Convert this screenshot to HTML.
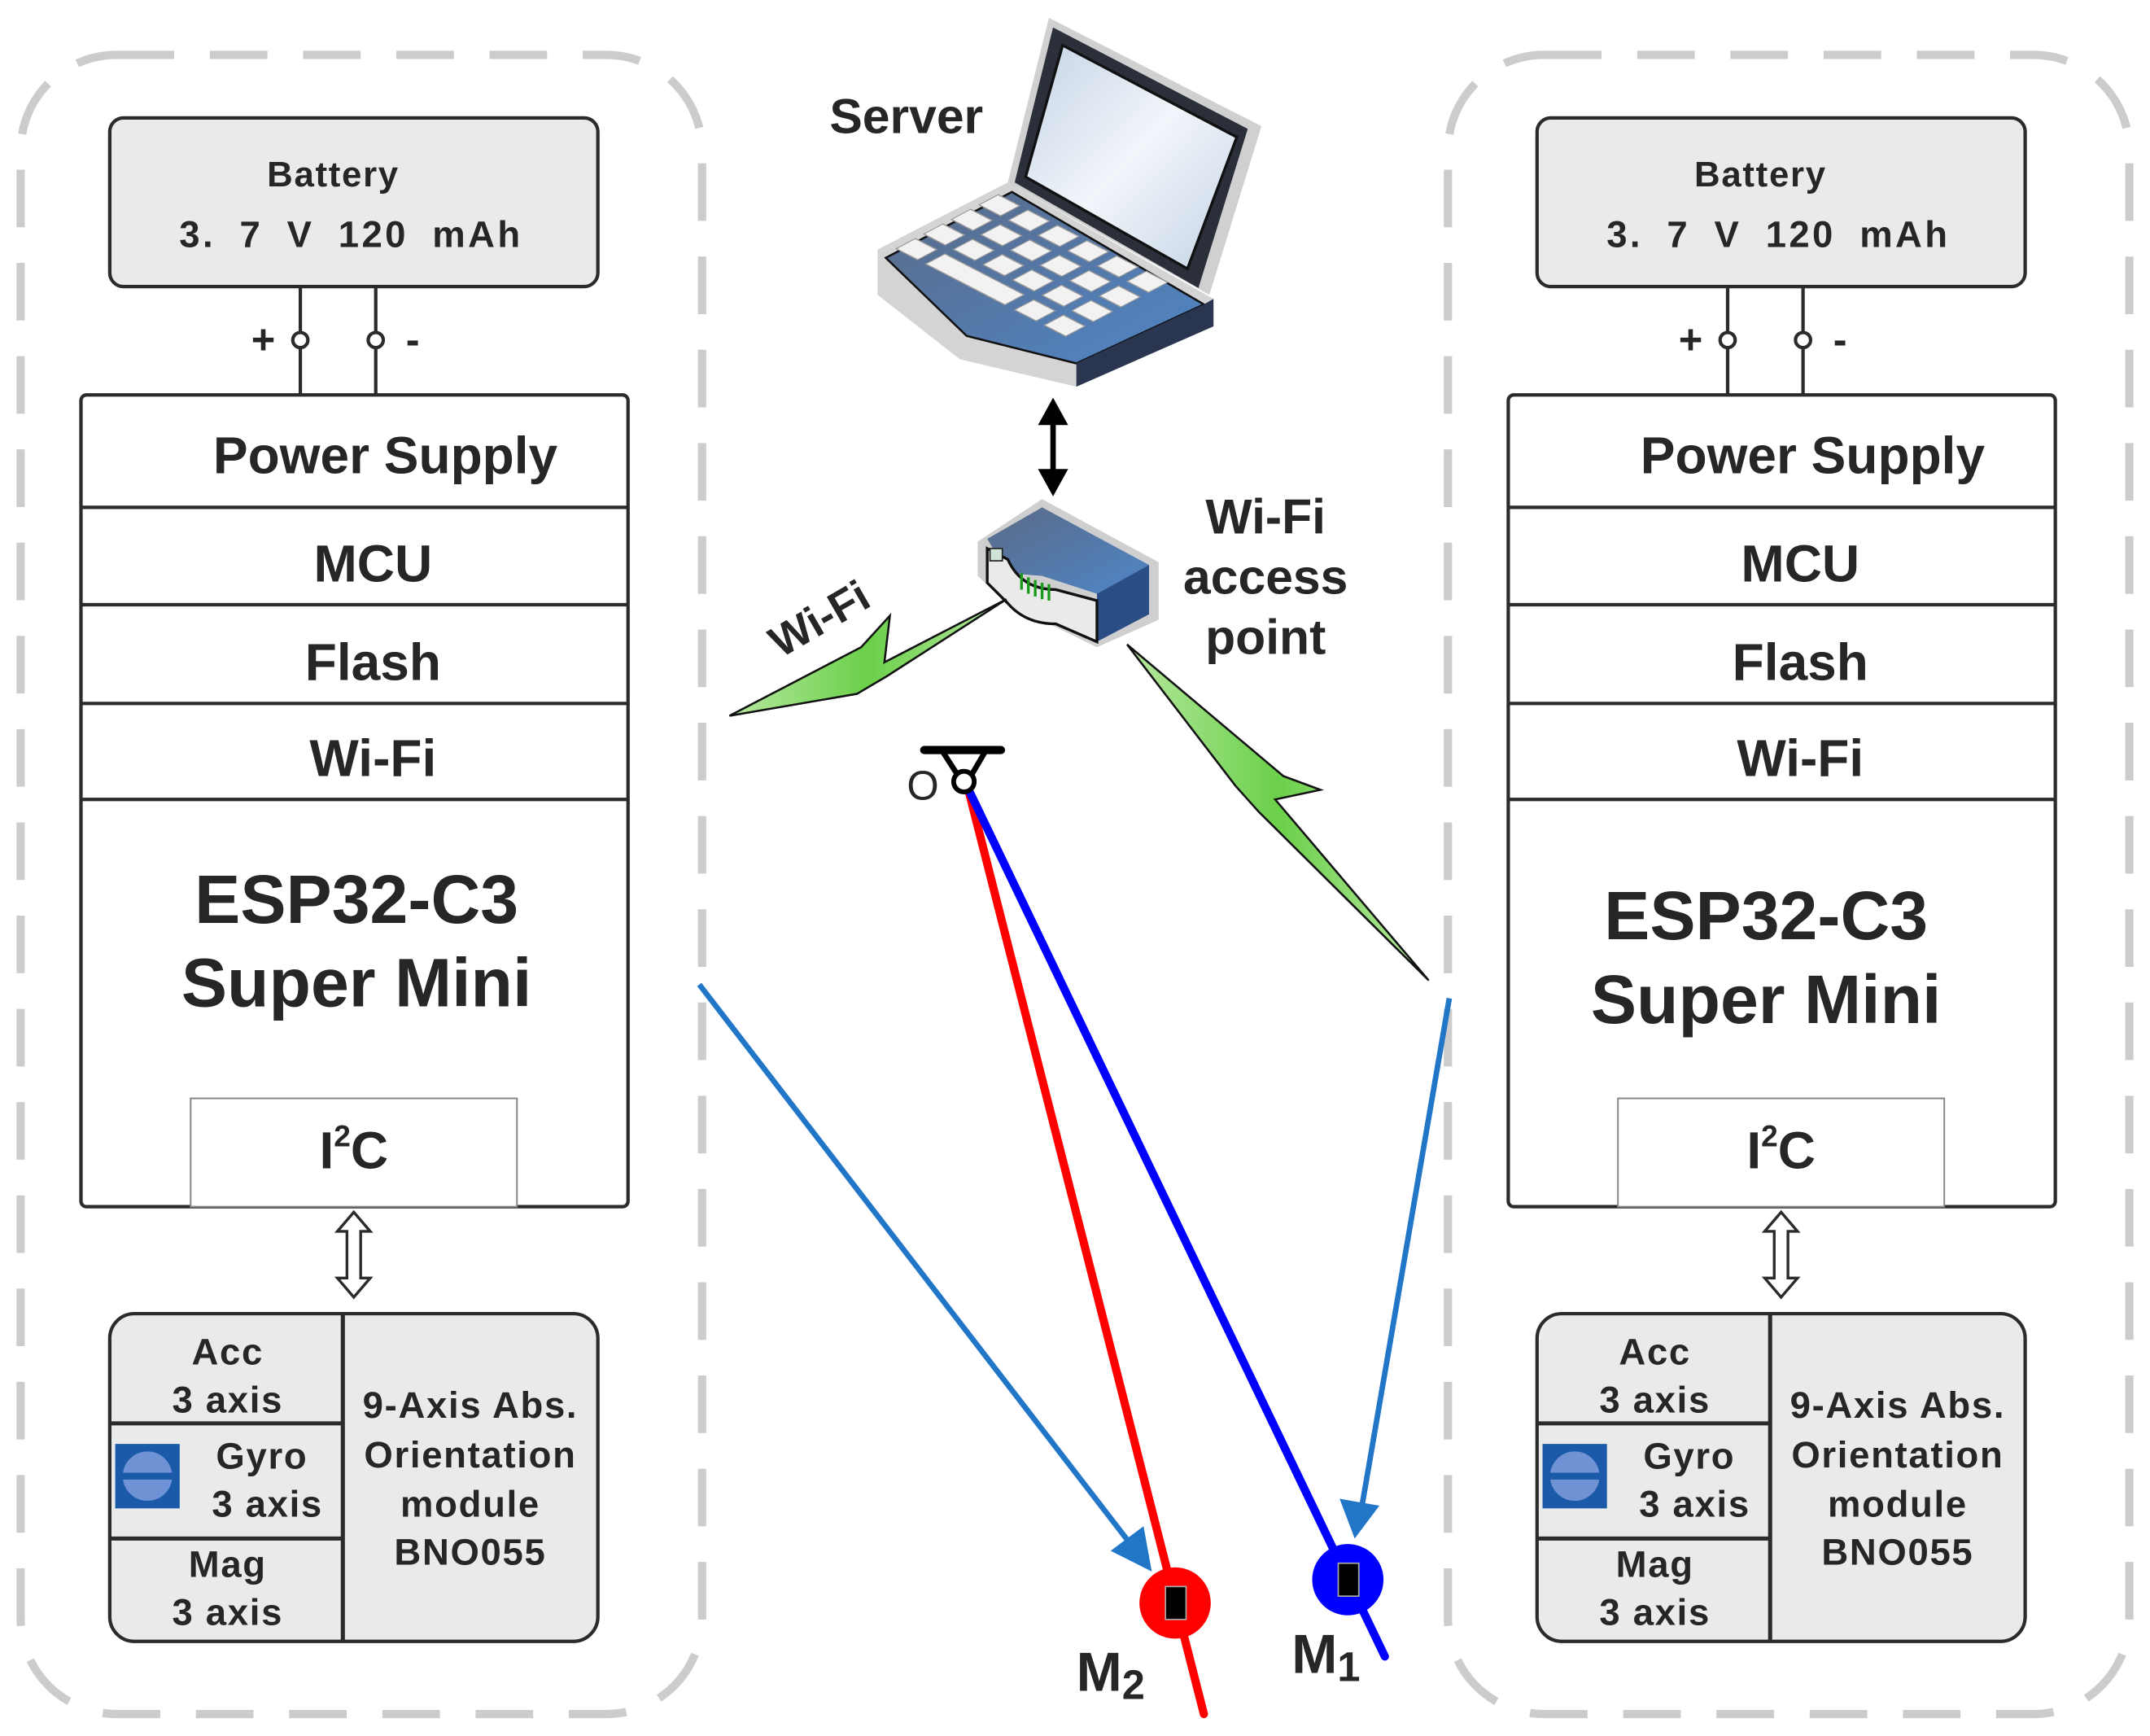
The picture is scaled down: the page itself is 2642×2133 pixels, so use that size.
<!DOCTYPE html>
<html><head><meta charset="utf-8"><style>
html,body{margin:0;padding:0;background:#fff;}
svg{display:block;}
text{font-family:"Liberation Sans",sans-serif;fill:#262626;font-weight:bold;}
</style></head><body>
<svg width="2642" height="2133" viewBox="0 0 1568 1266" xmlns="http://www.w3.org/2000/svg">
<defs>
<linearGradient id="blu" x1="0" y1="0" x2="1" y2="1"><stop offset="0" stop-color="#5a6a86"/><stop offset="1" stop-color="#4f86c8"/></linearGradient>
<linearGradient id="scr" x1="0" y1="0" x2="1" y2="1"><stop offset="0" stop-color="#c4d4e6"/><stop offset="0.5" stop-color="#f2f5fa"/><stop offset="1" stop-color="#c4d4e6"/></linearGradient>
<linearGradient id="grn" x1="0" y1="0" x2="1" y2="0"><stop offset="0" stop-color="#b7e8a0"/><stop offset="0.5" stop-color="#6bd04a"/><stop offset="1" stop-color="#b7e8a0"/></linearGradient>
<g id="node">
  <rect x="15" y="40" width="497" height="1210" rx="70" fill="none" stroke="#cccccc" stroke-width="6" stroke-dasharray="42 26"/>
  <rect x="80" y="86" width="356" height="123" rx="10" fill="#e9ebea" stroke="#2b2b2b" stroke-width="2.5"/>
  <text x="243" y="136" font-size="26" text-anchor="middle" letter-spacing="1">Battery</text>
  <text x="256" y="180" font-size="27" text-anchor="middle" letter-spacing="2" word-spacing="8">3. 7 V 120 mAh</text>
  <line x1="219" y1="209" x2="219" y2="288" stroke="#2b2b2b" stroke-width="2.5"/>
  <line x1="274" y1="209" x2="274" y2="288" stroke="#2b2b2b" stroke-width="2.5"/>
  <circle cx="219" cy="248" r="5.5" fill="#fff" stroke="#2b2b2b" stroke-width="2.5"/>
  <circle cx="274" cy="248" r="5.5" fill="#fff" stroke="#2b2b2b" stroke-width="2.5"/>
  <text x="192" y="258" font-size="30" text-anchor="middle">+</text>
  <text x="301" y="258" font-size="30" text-anchor="middle">-</text>
  <rect x="59" y="288" width="399" height="592" rx="4" fill="#fff" stroke="#2b2b2b" stroke-width="2.5"/>
  <line x1="59" y1="370" x2="458" y2="370" stroke="#2b2b2b" stroke-width="2.5"/>
  <line x1="59" y1="441" x2="458" y2="441" stroke="#2b2b2b" stroke-width="2.5"/>
  <line x1="59" y1="513" x2="458" y2="513" stroke="#2b2b2b" stroke-width="2.5"/>
  <line x1="59" y1="583" x2="458" y2="583" stroke="#2b2b2b" stroke-width="2.5"/>
  <text x="281" y="345" font-size="38" text-anchor="middle">Power Supply</text>
  <text x="272" y="424" font-size="38" text-anchor="middle">MCU</text>
  <text x="272" y="496" font-size="38" text-anchor="middle">Flash</text>
  <text x="272" y="566" font-size="38" text-anchor="middle">Wi-Fi</text>
  <rect x="139" y="801" width="238" height="79" fill="#fff" stroke="#888" stroke-width="1.2"/>
  <text x="258" y="852" font-size="38" text-anchor="middle">I<tspan font-size="22" dy="-16">2</tspan><tspan dy="16">C</tspan></text>
  <path d="M258 884 L270 898 L263 898 L263 932 L270 932 L258 946 L246 932 L253 932 L253 898 L246 898 Z" fill="#fff" stroke="#2b2b2b" stroke-width="2"/>
  <rect x="80" y="958" width="356" height="239" rx="18" fill="#e9ebea" stroke="#2b2b2b" stroke-width="2.5"/>
  <line x1="250" y1="958" x2="250" y2="1197" stroke="#2b2b2b" stroke-width="3"/>
  <line x1="80" y1="1038" x2="250" y2="1038" stroke="#2b2b2b" stroke-width="3"/>
  <line x1="80" y1="1122" x2="250" y2="1122" stroke="#2b2b2b" stroke-width="3"/>
  <g font-size="27" text-anchor="middle" letter-spacing="1">
    <text x="166" y="995">Acc</text>
    <text x="166" y="1030">3 axis</text>
    <text x="191" y="1071">Gyro</text>
    <text x="195" y="1106">3 axis</text>
    <text x="166" y="1150">Mag</text>
    <text x="166" y="1185">3 axis</text>
    <text x="343" y="1034">9-Axis Abs.</text>
    <text x="343" y="1070">Orientation</text>
    <text x="343" y="1106">module</text>
    <text x="343" y="1141">BNO055</text>
  </g>
  <rect x="84" y="1053" width="47" height="47" fill="#1a5aa8"/>
  <circle cx="107.5" cy="1076.5" r="20" fill="#6f92d4"/>
  <circle cx="107.5" cy="1076.5" r="20" fill="none" stroke="#1a5aa8" stroke-width="4"/>
  <rect x="88" y="1074" width="39" height="5" fill="#1a5aa8"/>
</g>
</defs>
<rect width="1568" height="1266" fill="#fff"/>
<use href="#node"/>
<use href="#node" transform="translate(1041,0)"/>
<rect x="1105" y="595" width="390" height="200" fill="#fff"/>
<rect x="64" y="595" width="390" height="200" fill="#fff"/>
<text x="260" y="673" font-size="50" text-anchor="middle">ESP32-C3</text>
<text x="260" y="734" font-size="50" text-anchor="middle">Super Mini</text>
<text x="1288" y="685" font-size="50" text-anchor="middle">ESP32-C3</text>
<text x="1288" y="746" font-size="50" text-anchor="middle">Super Mini</text>

<!-- laptop -->
<text x="661" y="97" font-size="36" text-anchor="middle">Server</text>
<polygon points="765,13 920,92 882,215 735,133" fill="#d0d0d0"/>
<polygon points="768,20 910,94 874,210 740,133" fill="#2a2f3a"/>
<polygon points="775,33 902,100 866,196 748,129" fill="url(#scr)" stroke="#111" stroke-width="2"/>
<polygon points="640,182 735,133 885,218 885,238 785,282 700,262 640,215" fill="#d4d4d4"/>
<polygon points="646,188 738,140 878,222 785,265 705,245" fill="url(#blu)" stroke="#111" stroke-width="1.5"/>
<g transform="matrix(1.2,0.62,-1.55,0.82,728,142)" fill="#f2f2f2" stroke="#999" stroke-width="0.6">
  <rect x="0" y="0" width="13" height="9"/><rect x="18" y="0" width="13" height="9"/><rect x="36" y="0" width="13" height="9"/><rect x="54" y="0" width="13" height="9"/><rect x="72" y="0" width="13" height="9"/><rect x="90" y="0" width="13" height="9"/>
  <rect x="0" y="13" width="13" height="9"/><rect x="18" y="13" width="13" height="9"/><rect x="36" y="13" width="13" height="9"/><rect x="54" y="13" width="13" height="9"/><rect x="72" y="13" width="13" height="9"/><rect x="90" y="13" width="13" height="9"/>
  <rect x="0" y="26" width="13" height="9"/><rect x="18" y="26" width="13" height="9"/><rect x="36" y="26" width="13" height="9"/><rect x="54" y="26" width="13" height="9"/><rect x="72" y="26" width="13" height="9"/><rect x="90" y="26" width="13" height="9"/>
  <rect x="0" y="39" width="13" height="9"/><rect x="18" y="39" width="48" height="9"/><rect x="72" y="39" width="13" height="9"/><rect x="90" y="39" width="13" height="9"/>
</g>
<polygon points="785,265 878,222 885,218 885,238 785,282" fill="#2a3550"/>

<!-- double arrow -->
<line x1="768" y1="305" x2="768" y2="348" stroke="#000" stroke-width="4"/>
<polygon points="768,290 779,310 757,310" fill="#000"/>
<polygon points="768,362 779,342 757,342" fill="#000"/>

<!-- router -->
<polygon points="713,395 760,364 845,410 845,452 800,472 735,440 713,420" fill="#cfcfcf"/>
<polygon points="720,393 760,370 838,412 800,433 760,420 735,418" fill="url(#blu)"/>
<polygon points="800,433 838,412 838,448 800,468" fill="#2a4d85"/>
<path d="M720,400 L735,408 Q745,430 770,430 L800,438 L800,468 L770,455 Q748,455 735,440 L720,425 Z" fill="#eaeaea" stroke="#111" stroke-width="2"/>
<rect x="722" y="400" width="9" height="9" fill="#cfe3d6" stroke="#222"/>
<g stroke="#1a9a1a" stroke-width="2"><line x1="745" y1="418" x2="745" y2="430"/><line x1="750" y1="421" x2="750" y2="433"/><line x1="755" y1="423" x2="755" y2="435"/><line x1="760" y1="425" x2="760" y2="437"/><line x1="765" y1="426" x2="765" y2="438"/></g>
<text x="923" y="389" font-size="36" text-anchor="middle">Wi-Fi</text>
<text x="923" y="433" font-size="36" text-anchor="middle">access</text>
<text x="923" y="477" font-size="36" text-anchor="middle">point</text>

<!-- lightning -->
<polygon points="532,522 628,472 649,449 645,483 734,437 647,493 625,506" fill="url(#grn)" stroke="#111" stroke-width="1.5" stroke-linejoin="miter"/>
<text x="598" y="462" font-size="32" text-anchor="middle" transform="rotate(-30 598 452)">Wi-Fi</text>
<polygon points="822,470 936,566 963,576 930,583 1042,715 918,592 901,573" fill="url(#grn)" stroke="#111" stroke-width="1.5"/>

<!-- pendulum -->
<line x1="706" y1="575" x2="878" y2="1250" stroke="#ff0000" stroke-width="6" stroke-linecap="round"/>
<line x1="706" y1="575" x2="1010" y2="1208" stroke="#0000ff" stroke-width="6" stroke-linecap="round"/>
<line x1="674" y1="547" x2="730" y2="547" stroke="#000" stroke-width="6" stroke-linecap="round"/>
<line x1="688" y1="549" x2="699" y2="566" stroke="#000" stroke-width="4"/>
<line x1="718" y1="549" x2="708" y2="566" stroke="#000" stroke-width="4"/>
<circle cx="703" cy="570" r="7.5" fill="#fff" stroke="#000" stroke-width="3.5"/>
<text x="673" y="583" font-size="30" text-anchor="middle" style="font-weight:normal">O</text>

<!-- blue arrows -->
<line x1="510" y1="718" x2="826" y2="1128" stroke="#2176c8" stroke-width="4"/>
<polygon points="840,1146 810,1131 834,1113" fill="#2176c8"/>
<line x1="1057" y1="728" x2="993" y2="1100" stroke="#2176c8" stroke-width="4"/>
<polygon points="988,1122 977,1093 1006,1098" fill="#2176c8"/>

<!-- masses -->
<circle cx="857" cy="1169" r="26" fill="#ff0000"/>
<rect x="850" y="1157" width="15" height="24" fill="#000" stroke="#aaa" stroke-width="1"/>
<circle cx="983" cy="1152" r="26" fill="#0000ff"/>
<rect x="976" y="1140" width="15" height="24" fill="#000" stroke="#aaa" stroke-width="1"/>
<text x="785" y="1233" font-size="40">M<tspan font-size="30" dy="6">2</tspan></text>
<text x="942" y="1220" font-size="40">M<tspan font-size="30" dy="6">1</tspan></text>
</svg>
</body></html>
